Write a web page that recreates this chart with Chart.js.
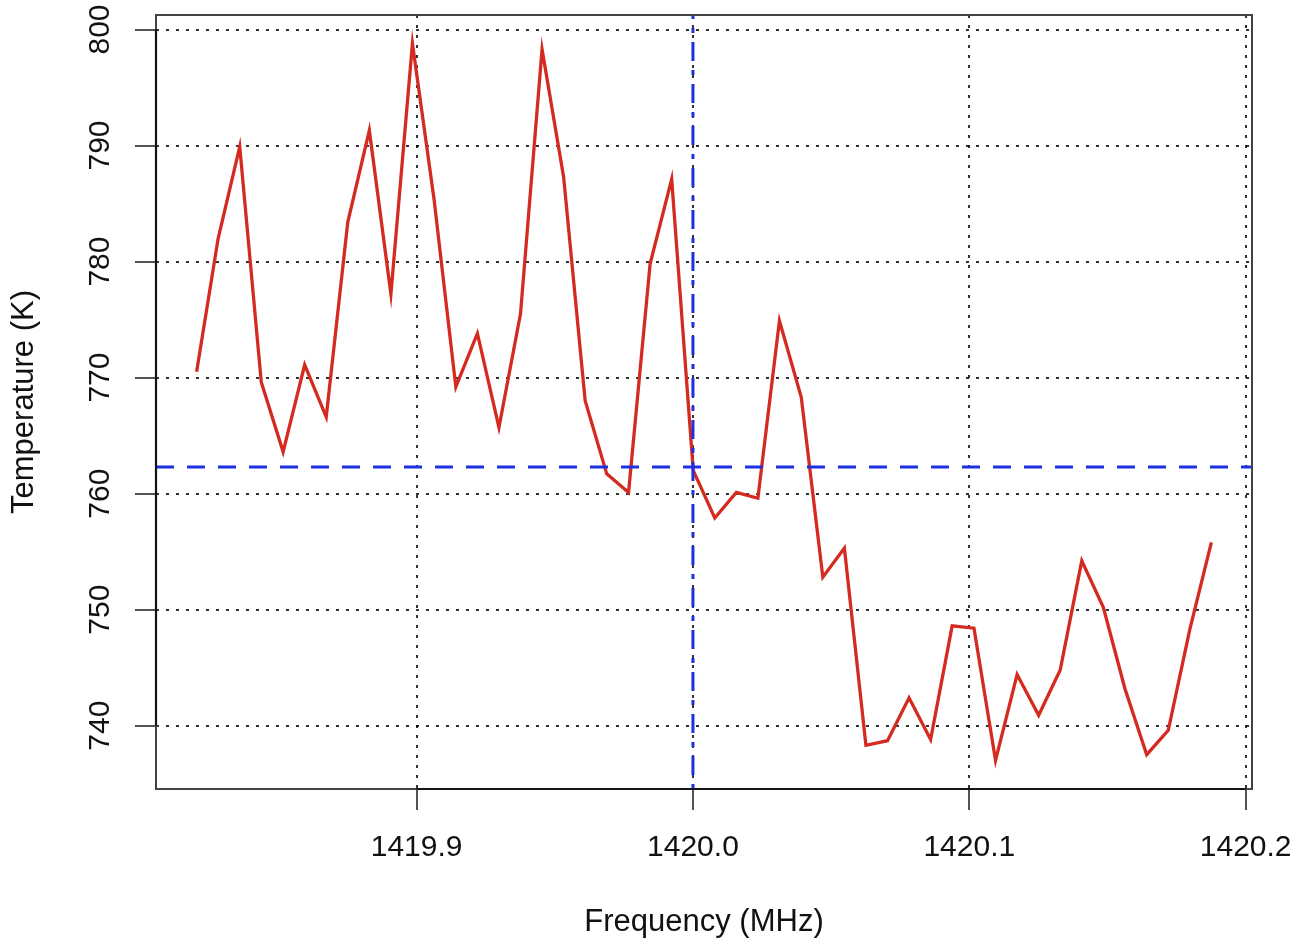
<!DOCTYPE html>
<html>
<head>
<meta charset="utf-8">
<title>Temperature vs Frequency</title>
<script src="https://cdn.jsdelivr.net/npm/chart.js@4.4.1/dist/chart.umd.min.js"></script>
<style>
  html, body { margin: 0; padding: 0; background: #fff; }
  #wrap { width: 1307px; height: 939px; }
</style>
</head>
<body>
<div id="wrap"><canvas id="spectrum" width="1307" height="939"></canvas></div>
<script>
  // channel frequencies (MHz) and measured temperature (K)
  const frequencies = [
    1419.8204, 1419.8282, 1419.8360, 1419.8438, 1419.8517, 1419.8595, 1419.8673, 1419.8751,
    1419.8829, 1419.8907, 1419.8985, 1419.9063, 1419.9142, 1419.9220, 1419.9298, 1419.9376,
    1419.9454, 1419.9532, 1419.9610, 1419.9688, 1419.9767, 1419.9845, 1419.9923, 1420.0001,
    1420.0079, 1420.0157, 1420.0235, 1420.0313, 1420.0392, 1420.0470, 1420.0548, 1420.0626,
    1420.0704, 1420.0782, 1420.0860, 1420.0938, 1420.1017, 1420.1095, 1420.1173, 1420.1251,
    1420.1329, 1420.1407, 1420.1485, 1420.1563, 1420.1642, 1420.1720, 1420.1798, 1420.1876
  ];
  const temperatures = [
    770.5, 782.0, 789.9, 769.6, 763.6, 771.1, 766.6, 783.4,
    791.3, 777.2, 798.8, 785.4, 769.2, 773.8, 765.7, 775.5,
    798.3, 787.3, 768.0, 761.7, 760.1, 779.8, 787.1, 762.0,
    757.9, 760.1, 759.6, 774.9, 768.3, 752.8, 755.3, 738.3,
    738.7, 742.4, 738.8, 748.6, 748.4, 737.0, 744.4, 740.9,
    744.8, 754.2, 750.2, 743.2, 737.5, 739.6, 748.3, 755.8
  ];
  const xTicks = [1419.9, 1420.0, 1420.1, 1420.2];
  const yTicks = [740, 750, 760, 770, 780, 790, 800];
  const xRange = [1419.8057, 1420.2023];
  const yRange = [734.54, 801.25];
  const meanLevel = 762.3;
  const centerFreq = 1420.0;

  const FONT = '"Liberation Sans", Arial, Helvetica, sans-serif';

  function zeroPadding(scale) {
    scale.paddingTop = 0;
    scale.paddingBottom = 0;
    scale.paddingLeft = 0;
    scale.paddingRight = 0;
  }

  // R-style box round the plot, with the axis lines darker between the end ticks
  const frameBox = {
    id: 'frameBox',
    afterDraw(chart) {
      const { ctx, chartArea: a, scales } = chart;
      ctx.save();
      ctx.strokeStyle = '#444';
      ctx.lineWidth = 2;
      ctx.strokeRect(a.left, a.top, a.right - a.left, a.bottom - a.top);
      ctx.strokeStyle = '#151515';
      ctx.lineWidth = 2.2;
      ctx.beginPath();
      ctx.moveTo(scales.x.getPixelForValue(xTicks[0]), a.bottom);
      ctx.lineTo(scales.x.getPixelForValue(xTicks[xTicks.length - 1]), a.bottom);
      ctx.moveTo(a.left, scales.y.getPixelForValue(yTicks[0]));
      ctx.lineTo(a.left, scales.y.getPixelForValue(yTicks[yTicks.length - 1]));
      ctx.stroke();
      ctx.restore();
    }
  };

  const gridStyle = {
    color: 'rgba(0,0,0,0.8)',
    lineWidth: 2,
    drawTicks: true,
    tickLength: 21,
    tickColor: '#1a1a1a',
    tickWidth: 1.5,
    tickBorderDash: []
  };

  new Chart(document.getElementById('spectrum'), {
    type: 'line',
    data: {
      datasets: [
        {
          label: 'Temperature',
          data: frequencies.map(function (f, i) { return { x: f, y: temperatures[i] }; }),
          borderColor: '#d42a1f',
          borderWidth: 3.3,
          pointRadius: 0,
          tension: 0,
          order: 3
        },
        {
          label: 'Mean',
          data: [{ x: xRange[0], y: meanLevel }, { x: xRange[1], y: meanLevel }],
          borderColor: '#1e30e0',
          borderWidth: 3,
          borderDash: [18, 13],
          borderCapStyle: 'butt',
          pointRadius: 0,
          order: 2
        },
        {
          label: 'Centre',
          data: [{ x: centerFreq, y: yRange[0] }, { x: centerFreq, y: yRange[1] }],
          borderColor: '#1e30e0',
          borderWidth: 3,
          borderDash: [5, 9, 19, 9],
          borderCapStyle: 'butt',
          pointRadius: 0,
          order: 1
        }
      ]
    },
    options: {
      responsive: false,
      devicePixelRatio: 1,
      animation: false,
      layout: { padding: { left: 0, top: 15, right: 55, bottom: 0 } },
      plugins: {
        legend: { display: false },
        tooltip: { enabled: false }
      },
      scales: {
        x: {
          type: 'linear',
          position: 'bottom',
          z: 1,
          min: xRange[0],
          max: xRange[1],
          afterBuildTicks(scale) {
            scale.ticks = xTicks.map(function (v) { return { value: v }; });
          },
          afterFit(scale) {
            scale.height = 150;
            zeroPadding(scale);
          },
          grid: gridStyle,
          border: { display: false, dash: [3, 7] },
          ticks: {
            color: '#111',
            font: { family: FONT, size: 30 },
            padding: 20,
            minRotation: 0,
            maxRotation: 0,
            callback: function (v) { return Number(v).toFixed(1); }
          },
          title: {
            display: true,
            text: 'Frequency (MHz)',
            color: '#111',
            font: { family: FONT, size: 31 },
            padding: { top: 0, bottom: -2 }
          }
        },
        y: {
          type: 'linear',
          position: 'left',
          z: 1,
          min: yRange[0],
          max: yRange[1],
          afterBuildTicks(scale) {
            scale.ticks = yTicks.map(function (v) { return { value: v }; });
          },
          afterFit(scale) {
            scale.width = 156;
            zeroPadding(scale);
          },
          grid: gridStyle,
          border: { display: false, dash: [3, 7] },
          ticks: {
            color: '#111',
            font: { family: FONT, size: 30 },
            padding: 9,
            crossAlign: 'center',
            minRotation: 90,
            maxRotation: 90,
            callback: function (v) { return String(v); }
          },
          title: {
            display: true,
            text: 'Temperature (K)',
            color: '#111',
            font: { family: FONT, size: 31 },
            padding: { top: 6, bottom: 0 }
          }
        }
      }
    },
    plugins: [frameBox]
  });
</script>
</body>
</html>
